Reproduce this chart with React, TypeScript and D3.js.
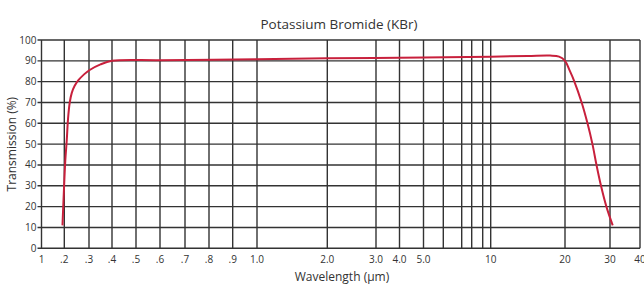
import * as d3 from 'd3';
import React from 'react';

// grid positions on the (non-uniform) wavelength axis
const gridValues = [0.1, 0.2, 0.3, 0.4, 0.5, 0.6, 0.7, 0.8, 0.9, 1, 2, 3, 4, 5, 6, 7, 8, 9, 10, 20, 30, 40];
const gridPixels = [41.5, 64.3, 89, 112, 136, 160, 185, 209, 232.7, 257, 327.3, 376, 399.5, 423.5, 443.3, 461.7, 471.7, 482.7, 490.7, 565, 610, 640];

const xTickValues = [0.1, 0.2, 0.3, 0.4, 0.5, 0.6, 0.7, 0.8, 0.9, 1, 2, 3, 4, 5, 10, 20, 30, 40];
const xTickLabels = ['1', '.2', '.3', '.4', '.5', '.6', '.7', '.8', '.9', '1.0', '2.0', '3.0', '4.0', '5.0', '10', '20', '30', '40'];
const yTicks = [0, 10, 20, 30, 40, 50, 60, 70, 80, 90, 100];

const wavelength = [0.192, 0.198, 0.204, 0.21, 0.215, 0.222, 0.23, 0.242, 0.258, 0.28, 0.303, 0.35, 0.4, 0.6, 1.0, 2.0, 5.0, 10, 15, 18, 19.2, 20, 21, 22, 23.7, 25, 26.1, 27, 28, 29.2, 30.9];
const transmission = [11, 27, 42, 52, 62, 70, 74.5, 78, 80.8, 83.5, 85.6, 88.3, 90, 90.3, 90.8, 91.2, 91.6, 92, 92.3, 92.5, 92, 90, 85.5, 80.5, 70, 60, 50, 40, 30, 20, 11];

const font = '"Open Sans", "DejaVu Sans", sans-serif';
const gridColor = '#333';
const textColor = '#333';

const App: React.FC = () => {
  const width = 644;
  const height = 284;

  const x = d3.scaleLinear().domain(gridValues).range(gridPixels);
  const y = d3.scaleLinear().domain([0, 100]).range([248.3, 40]);

  const points = wavelength.map((w, i) => [w, transmission[i]] as [number, number]);
  const line = d3
    .line<[number, number]>()
    .x(d => x(d[0]))
    .y(d => y(d[1]))
    .curve(d3.curveCatmullRom.alpha(0.5));

  const x0 = x(0.1);
  const x1 = x(40);

  return (
    <svg
      width={width}
      height={height}
      style={{ position: 'absolute', left: 0, top: 0, background: 'white' }}
    >
      <text x={339} y={29} textAnchor='middle' fontFamily={font} fontSize={13.5} fill={textColor}>
        Potassium Bromide (KBr)
      </text>

      <g stroke={gridColor} strokeWidth={1.4}>
        {yTicks.map(t => (
          <line key={'h' + t} x1={x0 - 4} x2={x1} y1={y(t)} y2={y(t)} />
        ))}
        {gridValues.map(v => (
          <line key={'v' + v} x1={x(v)} x2={x(v)} y1={y(100)} y2={y(0)} />
        ))}
      </g>

      <g fontFamily={font} fontSize={10} fill={textColor}>
        {yTicks.map(t => (
          <text key={'yl' + t} x={x0 - 5} y={y(t)} dy='0.35em' textAnchor='end'>
            {t}
          </text>
        ))}
        {xTickValues.map((v, i) => (
          <text key={'xl' + v} x={x(v)} y={263} textAnchor='middle'>
            {xTickLabels[i]}
          </text>
        ))}
      </g>

      <text x={342} y={281} textAnchor='middle' fontFamily={font} fontSize={12} fill={textColor}>
        Wavelength (µm)
      </text>
      <text
        transform={`translate(16,${y(50)}) rotate(-90)`}
        textAnchor='middle'
        fontFamily={font}
        fontSize={12}
        fill={textColor}
      >
        Transmission (%)
      </text>

      <path d={line(points) ?? ''} fill='none' stroke='#c8203c' strokeWidth={2} strokeLinejoin='round' />
    </svg>
  );
};

export default App;
